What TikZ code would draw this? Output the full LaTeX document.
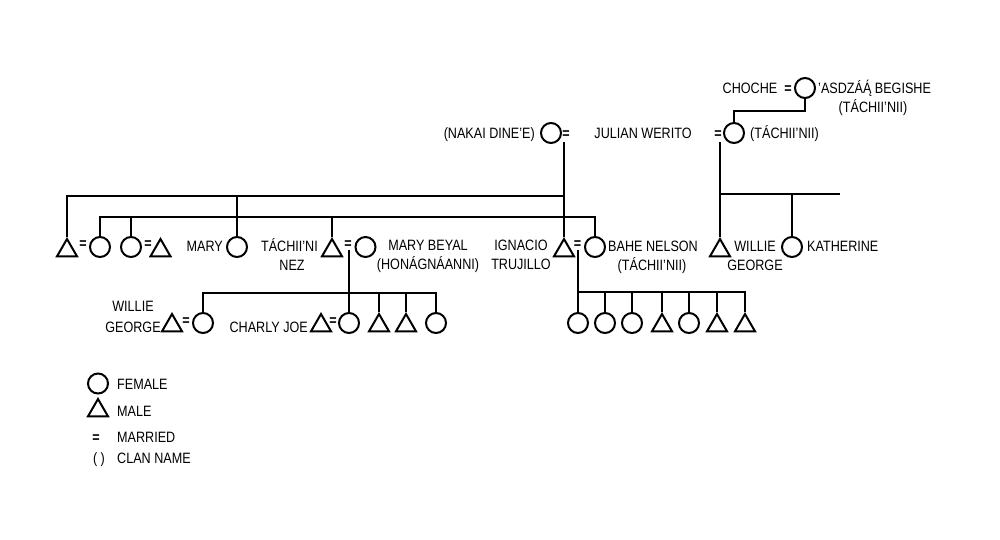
\documentclass[tikz,border=0pt]{standalone}
\usepackage{fontspec}
\setmainfont{Liberation Sans}[FakeStretch=0.84]
\usetikzlibrary{shapes.geometric}
\begin{document}
\begin{tikzpicture}[x=1pt,y=-1pt,
  ln/.style={line width=2pt},
  fem/.style={circle,draw,line width=2pt,minimum size=20pt,inner sep=0pt},
  mal/.style={regular polygon,regular polygon sides=3,draw,line width=2pt,minimum size=23pt,inner sep=0pt},
  lbl/.style={font=\fontsize{15pt}{18pt}\selectfont,inner sep=0pt,anchor=base},
  eqs/.style={font=\fontsize{15pt}{18pt}\selectfont\bfseries,inner sep=0pt,anchor=base},
]
\useasboundingbox[fill=white] (0,0) rectangle (1000,539);

% top generation
\node[fem] (nakai) at (551,133) {};
\node[eqs] (eq0) at (566,138.8) {=};
\node[lbl,anchor=base east] (tnakai) at (535,138.5) {(NAKAI DINE’E)};
\node[lbl] (tjulian) at (643,138.5) {JULIAN WERITO};
\node[eqs] (eqj) at (718,138.8) {=};
\node[fem] (jw) at (734,133) {};
\node[lbl,anchor=base west] (tjw) at (750,138.5) {(TÁCHII’NII)};
\node[lbl] (tchoche) at (750,93.4) {CHOCHE};
\node[eqs] (eqc) at (788,93.8) {=};
\node[fem] (asd) at (805,88) {};
\node[lbl,anchor=base west] (tasd) at (818,93.4) {’ASDZÁĄ́ BEGISHE};
\node[lbl] (tasd2) at (873,112.4) {(TÁCHII’NII)};

% row 1
\node[mal] (m1) at (67,250.5) {};
\node[eqs] (eq1) at (83,248.8) {=};
\node[fem] (f1) at (100,247) {};
\node[fem] (f2) at (131,247) {};
\node[eqs] (eq2) at (148,248.8) {=};
\node[mal] (m2) at (160.5,250.5) {};
\node[lbl,anchor=base east] (tmary) at (223,251) {MARY};
\node[fem] (mary) at (237,247) {};
\node[lbl,anchor=base east] (ttn1) at (318,251) {TÁCHII’NI};
\node[lbl] (ttn2) at (292,270) {NEZ};
\node[mal] (tn) at (332,250.5) {};
\node[eqs] (eqt) at (348,248.8) {=};
\node[fem] (mb) at (365.5,247) {};
\node[lbl] (tmb1) at (428,250.5) {MARY BEYAL};
\node[lbl] (tmb2) at (428,269.5) {(HONÁGNÁANNI)};
\node[lbl] (tig1) at (521,250.5) {IGNACIO};
\node[lbl] (tig2) at (521,269.5) {TRUJILLO};
\node[mal] (ig) at (564,250.5) {};
\node[eqs] (eqi) at (577.5,248.8) {=};
\node[fem] (bn) at (595,247) {};
\node[lbl,anchor=base west] (tbn1) at (608,251.5) {BAHE NELSON};
\node[lbl] (tbn2) at (652,270) {(TÁCHII’NII)};
\node[mal] (wg) at (720,250.5) {};
\node[lbl] (twg1) at (755,251) {WILLIE};
\node[lbl] (twg2) at (755,270) {GEORGE};
\node[fem] (kat) at (792,247) {};
\node[lbl,anchor=base west] (tkat) at (807,251) {KATHERINE};

% row 2 left
\node[lbl] (twl1) at (133,311.5) {WILLIE};
\node[lbl] (twl2) at (133,332.5) {GEORGE};
\node[mal] (m3) at (172,325.5) {};
\node[eqs] (eq3) at (186,325.8) {=};
\node[fem] (f3) at (203,323) {};
\node[lbl,anchor=base east] (tcj) at (308,332.5) {CHARLY JOE};
\node[mal] (cj) at (321,325.5) {};
\node[eqs] (eq4) at (333,325.8) {=};
\node[fem] (f4) at (349,323) {};
\node[mal] (m5) at (379,325.5) {};
\node[mal] (m6) at (406,325.5) {};
\node[fem] (f6) at (436,323) {};

% row 2 right
\node[fem] (b1) at (578,323) {};
\node[fem] (b2) at (605,323) {};
\node[fem] (b3) at (632,323) {};
\node[mal] (b4) at (662,325.5) {};
\node[fem] (b5) at (689,323) {};
\node[mal] (b6) at (717,325.5) {};
\node[mal] (b7) at (745,325.5) {};

% helper coordinates
\coordinate (d0) at (564,142);
\coordinate (l1) at (564,196);
\coordinate (l2) at (595,217);
\coordinate (dj) at (720,142);
\coordinate (rend) at (840,194);
\coordinate (dt) at (349,250);
\coordinate (l3) at (436,293);
\coordinate (di) at (578,250);
\coordinate (l4) at (745,292);

% connectors
\draw[ln] (d0) -- (ig.north);
\draw[ln] (m1.north) |- (l1);
\draw[ln] (mary.north) -- (mary.north |- l1);
\draw[ln] (f1.north) |- (l2) -- (bn.north);
\draw[ln] (f2.north) -- (f2.north |- l2);
\draw[ln] (tn.north) -- (tn.north |- l2);
\draw[ln] (dj) -- (wg.north);
\draw[ln] (wg.north |- rend) -- (rend);
\draw[ln] (kat.north) -- (kat.north |- rend);
\draw[ln] (asd.south) -- ++(0,12) -| (jw.north);
\draw[ln] (dt) -- (f4.north);
\draw[ln] (f3.north) |- (l3) -- (f6.north);
\draw[ln] (m5.north) -- (m5.north |- l3);
\draw[ln] (m6.north) -- (m6.north |- l3);
\draw[ln] (di) -- (b1.north);
\draw[ln] (b1.north |- l4) -- (l4) -- (b7.north);
\foreach \n in {b2,b3,b4,b5,b6} \draw[ln] (\n.north) -- (\n.north |- l4);

% legend
\node[fem] (lf) at (98,383.5) {};
\node[lbl,anchor=base west] (tlf) at (117,389) {FEMALE};
\node[mal] (lm) at (98,410.5) {};
\node[lbl,anchor=base west] (tlm) at (117,416) {MALE};
\node[eqs] (le) at (96,442.8) {=};
\node[lbl,anchor=base west] (tle) at (117,442.5) {MARRIED};
\node[lbl] (lc) at (99,463.5) {( )};
\node[lbl,anchor=base west] (tlc) at (117,463.5) {CLAN NAME};
\end{tikzpicture}
\end{document}
